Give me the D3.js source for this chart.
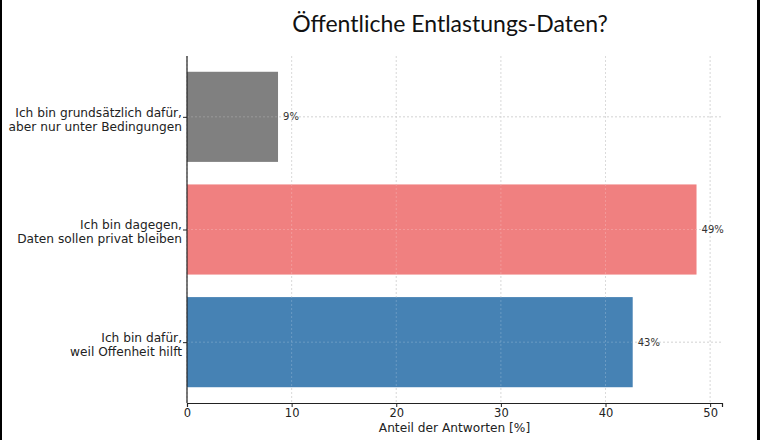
<!DOCTYPE html>
<html>
<head>
<meta charset="utf-8">
<script src="https://cdn.jsdelivr.net/npm/d3@7.9.0/dist/d3.min.js"></script>
<style>
  html, body { margin: 0; padding: 0; background: #fff; }
  svg { display: block; }
</style>
</head>
<body>
<svg id="chart" width="760" height="440"></svg>
<script>
// answers, top to bottom
const categories = [
  ['Ich bin grundsätzlich dafür,', 'aber nur unter Bedingungen'],
  ['Ich bin dagegen,', 'Daten sollen privat bleiben'],
  ['Ich bin dafür,', 'weil Offenheit hilft']
];
const shares = [8.7, 48.7, 42.6];
const colors = ['#808080', '#f08080', '#4682b4'];
const xTicks = [0, 10, 20, 30, 40, 50];

const svg = d3.select('#chart');
const plotLeft = 187, plotRight = 722, plotTop = 56, plotBottom = 403;
const fs = 12.2;

// frame lines at the image edges
svg.append('rect').attr('x', 0).attr('y', 0).attr('width', 2).attr('height', 440).attr('fill', '#000');
svg.append('rect').attr('x', 757).attr('y', 0).attr('width', 3).attr('height', 440).attr('fill', '#000');

const x = d3.scaleLinear().domain([0, d3.max(shares) * 1.05]).range([plotLeft, plotRight]);
// bar index 0 at top
const y = d3.scaleLinear().domain([-0.54, 2.54]).range([plotTop, plotBottom]);
const barH = y(0.4) - y(-0.4);

const g = svg.append('g');

// grid
g.selectAll('.vgrid').data(xTicks).join('line')
  .attr('x1', d => x(d)).attr('x2', d => x(d))
  .attr('y1', plotTop).attr('y2', plotBottom)
  .attr('stroke', '#c8c8c8').attr('stroke-width', 0.8).attr('stroke-dasharray', '2,2');
g.selectAll('.hgrid').data(shares).join('line')
  .attr('x1', plotLeft).attr('x2', plotRight)
  .attr('y1', (d, i) => y(i)).attr('y2', (d, i) => y(i))
  .attr('stroke', '#c8c8c8').attr('stroke-width', 0.8).attr('stroke-dasharray', '2,2');

// bars
g.selectAll('.bar').data(shares).join('rect')
  .attr('x', x(0))
  .attr('y', (d, i) => y(i) - barH / 2)
  .attr('width', d => x(d) - x(0))
  .attr('height', barH)
  .attr('fill', (d, i) => colors[i]);

// grid shows faintly through the bars
g.selectAll('.vgrid2').data(xTicks.filter(d => d > 0)).join('line')
  .attr('x1', d => x(d)).attr('x2', d => x(d))
  .attr('y1', plotTop).attr('y2', plotBottom)
  .attr('stroke', '#ffffff').attr('stroke-opacity', 0.25).attr('stroke-width', 0.8).attr('stroke-dasharray', '2,2');
g.selectAll('.hgrid2').data(shares).join('line')
  .attr('x1', plotLeft).attr('x2', d => x(d))
  .attr('y1', (d, i) => y(i)).attr('y2', (d, i) => y(i))
  .attr('stroke', '#ffffff').attr('stroke-opacity', 0.25).attr('stroke-width', 0.8).attr('stroke-dasharray', '2,2');

// value labels
g.selectAll('.val').data(shares).join('text')
  .attr('x', d => x(d) + 5)
  .attr('y', (d, i) => y(i))
  .attr('dy', '0.35em')
  .attr('font-family', 'DejaVu Sans')
  .attr('font-size', 10)
  .attr('fill', '#333')
  .text(d => Math.round(d) + '%');

// x axis
const xAxis = d3.axisBottom(x).tickValues(xTicks).tickSize(4).tickPadding(2);
const xg = svg.append('g').attr('transform', `translate(0,${plotBottom})`).call(xAxis);
xg.select('.domain').attr('stroke', '#222').attr('stroke-width', 1.2);
xg.selectAll('.tick line').attr('stroke', '#222');
xg.selectAll('.tick text').attr('font-family', 'DejaVu Sans').attr('font-size', 11.5).attr('fill', '#222');

// y axis
const yAxis = d3.axisLeft(y).tickValues([0, 1, 2]).tickSize(4).tickFormat('');
const yg = svg.append('g').attr('transform', `translate(${plotLeft},0)`).call(yAxis);
yg.select('.domain').attr('d', `M0,${plotTop}V${plotBottom}`).attr('stroke', '#222').attr('stroke-width', 1.2);
yg.selectAll('.tick line').attr('stroke', '#222');

// y labels, two lines each
const yl = svg.selectAll('.ylab').data(categories).join('text')
  .attr('x', plotLeft - 5)
  .attr('y', (d, i) => y(i))
  .attr('text-anchor', 'end')
  .attr('font-family', 'DejaVu Sans')
  .attr('font-size', fs)
  .attr('fill', '#222');
yl.selectAll('tspan').data(d => d).join('tspan')
  .attr('x', plotLeft - 5)
  .attr('dy', (d, j) => j === 0 ? '-0.02em' : '1.15em')
  .text(d => d);

// axis title
svg.append('text')
  .attr('x', (plotLeft + plotRight) / 2).attr('y', 432)
  .attr('text-anchor', 'middle')
  .attr('font-family', 'DejaVu Sans').attr('font-size', fs).attr('fill', '#222')
  .text('Anteil der Antworten [%]');

// chart title
svg.append('text')
  .attr('x', 450).attr('y', 32)
  .attr('text-anchor', 'middle')
  .attr('font-family', 'Lato').attr('font-size', 23).attr('fill', '#111')
  .text('Öffentliche Entlastungs-Daten?');
</script>
</body>
</html>
